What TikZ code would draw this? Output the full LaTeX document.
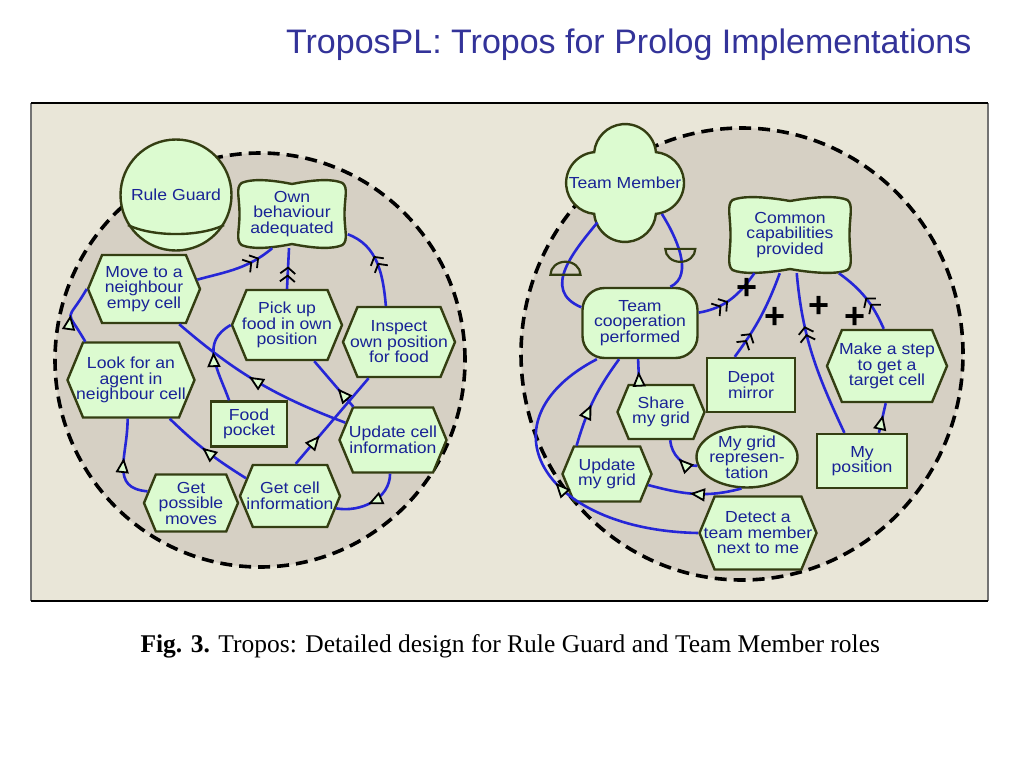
\documentclass[tikz,border=0pt]{standalone}
\usepackage{fontspec}
\setmainfont{Liberation Sans}
\newfontfamily\diafont[FakeStretch=1.1]{Liberation Sans}
\newfontfamily\capfont{Liberation Serif}
\usetikzlibrary{shapes.symbols,shapes.geometric,arrows.meta,decorations.markings}

\definecolor{panel}{RGB}{233,230,216}
\definecolor{boundfill}{RGB}{214,208,196}
\definecolor{mint}{RGB}{220,251,208}
\definecolor{olive}{RGB}{52,62,18}
\definecolor{linkblue}{RGB}{38,38,215}
\definecolor{labelblue}{RGB}{25,35,150}
\definecolor{titleblue}{RGB}{51,51,153}

\begin{document}
\begin{tikzpicture}[x=1pt, y=1pt,
    every node/.style={font=\diafont\fontsize{16}{15.5}\selectfont, text=labelblue, align=center},
    element/.style={draw=olive, fill=mint, line width=2.4pt, inner sep=1pt},
    plan/.style={element, signal, signal to=west and east, signal pointer angle=135, inner xsep=-11pt},
    resource/.style={element, rectangle},
    goal/.style={element, rectangle, rounded corners=22pt},
    belief/.style={element, ellipse, inner sep=-4pt},
    actor/.style={element, circle},
    sgpath/.style 2 args={insert path={(0,#2-4) .. controls (0.45*#1,#2+1) and (#1-14,#2+1) .. (#1-5,#2-3)
        .. controls (#1+1,#2-8) and (#1-3,0.5*#2) .. (#1-3,0)
        .. controls (#1-3,-0.5*#2) and (#1+1,-#2+8) .. (#1-5,-#2+3)
        .. controls (#1-14,-#2-1) and (0.45*#1,-#2-1) .. (0,-#2+4)
        .. controls (-0.45*#1,-#2-1) and (-#1+14,-#2-1) .. (-#1+5,-#2+3)
        .. controls (-#1-1,-#2+8) and (-#1+3,-0.5*#2) .. (-#1+3,0)
        .. controls (-#1+3,0.5*#2) and (-#1-1,#2-8) .. (-#1+5,#2-3)
        .. controls (-#1+14,#2+1) and (-0.45*#1,#2+1) .. (0,#2-4) -- cycle}},
    boundary/.style={draw=black, fill=boundfill, line width=3.6pt, dash pattern=on 12pt off 7pt},
    link/.style={draw=linkblue, line width=2.6pt},
    meansend/.style={postaction={decorate, decoration={markings, mark=at position #1 with
        {\arrow{Triangle[length=15pt, width=13pt, color=black, fill=mint, line width=1.8pt]}}}}},
    contrib/.style={postaction={decorate, decoration={markings, mark=at position #1 with
        {\arrow{Straight Barb[length=6pt, width=15pt, color=black, line width=1.8pt] Straight Barb[length=6pt, width=15pt, color=black, line width=1.8pt]}}}}},
    plus/.style={font=\fontsize{36}{36}\bfseries\selectfont, text=black, inner sep=0pt},
    ownership/.style={draw=olive, line width=2.2pt}
  ]
\useasboundingbox (0,0) rectangle (1024,-768);

% title and caption
\node[font=\fontsize{34}{34}\selectfont, text=titleblue, anchor=base east] (title) at (975,-54) {TroposPL: Tropos for Prolog Implementations};
\node[font=\capfont\fontsize{25.5}{25.5}\selectfont, text=black, anchor=base west] (caption) at (137,-652) {\textbf{Fig. 3.} Tropos: Detailed design for Rule Guard and Team Member roles};

% figure panel
\fill[panel] (31,-103) rectangle (988,-601);
\draw[black!55, line width=1.5pt] (31,-103) -- (31,-601);
\draw[black!55, line width=1.5pt] (988,-103) -- (988,-601);
\draw[black, line width=1.5pt] (31,-103) -- (988,-103);
\draw[black, line width=1.5pt] (31,-601) -- (988,-601);

% actor boundaries
\draw[boundary] (260,-360) ellipse[x radius=205, y radius=207];
\draw[boundary] (742,-354) ellipse[x radius=221, y radius=226];

% Rule Guard
\node[actor, minimum size=111] (rg) at (176,-195) {Rule Guard};
\draw[olive, line width=2.4pt] (rg.212) .. controls +(25,-12) and +(-25,-12) .. (rg.-32);

\filldraw[element, shift={(292,-214)}] [sgpath={55.5}{34}];
\node[minimum width=111, minimum height=68] (own) at (292,-214) {Own\\behaviour\\adequated};
\node[plan, minimum width=112, minimum height=68] (move) at (144,-289) {Move to a\\neighbour\\empy cell};
\node[plan, minimum width=110, minimum height=70] (pick) at (287,-325) {Pick up\\food in own\\position};
\node[plan, minimum width=112, minimum height=70] (inspect) at (399,-342) {Inspect\\own position\\for food};
\node[plan, minimum width=127, minimum height=75] (look) at (131,-380) {Look for an\\agent in\\neighbour cell};
\node[resource, minimum width=76, minimum height=45] (food) at (249,-424) {Food\\pocket};
\node[plan, minimum width=107, minimum height=65] (update) at (393,-440) {Update cell\\information};
\node[plan, minimum width=94, minimum height=57] (getmoves) at (191,-503) {Get\\possible\\moves};
\node[plan, minimum width=100, minimum height=62] (getcell) at (290,-496) {Get cell\\information};

\draw[link, contrib=.8] (move.10) to[out=15, in=-140] (own.240);
\draw[link, contrib=.55] (pick.north) to (own.265);
\draw[link, contrib=.6] (inspect.110) to[out=95, in=-20] (own.-20);
\draw[link, meansend=.5] (look.140) to[out=120, in=240, looseness=2] (move.west);
\draw[link, meansend=.55] (update.160) to[bend left=10] (move.-45);
\draw[link, meansend=.6] (food.130) to[out=110, in=210, looseness=1.2] (pick.west);
\draw[link, meansend=.4] (update.140) to (pick.-53);
\draw[link, meansend=.33] (getcell.80) to (inspect.-130);
\draw[link, meansend=.55] (getcell.158) to[bend left=6] (look.-45);
\draw[link, meansend=.55] (getmoves.165) to[out=175, in=-90, looseness=1.3] (look.-95);
\draw[link, meansend=.55] (update.-95) to[out=-90, in=-10] (getcell.-15);

% Team Member
\filldraw[element, shift={(625,-183)}] (28,0) ++(-84.6:31)
  arc[start angle=-84.6, end angle=84.6, radius=31]
  arc[start angle=5.4, end angle=174.6, radius=31]
  arc[start angle=95.4, end angle=264.6, radius=31]
  arc[start angle=185.4, end angle=354.6, radius=31] -- cycle;
\node[circle, minimum size=96, inner sep=-10pt] (tm) at (625,-183) {Team Member};

\filldraw[element, shift={(790,-235)}] [sgpath={62.5}{38}];
\node[minimum width=125, minimum height=76] (cc) at (790,-235) {Common\\capabilities\\provided};
\node[goal, minimum width=115, minimum height=70] (tcp) at (640,-323) {Team\\cooperation\\performed};
\node[resource, minimum width=88, minimum height=54] (depot) at (751,-385) {Depot\\mirror};
\node[plan, minimum width=120, minimum height=72] (step) at (887,-366) {Make a step\\to get a\\target cell};
\node[plan, minimum width=87, minimum height=54] (share) at (661,-412) {Share\\my grid};
\node[belief, minimum width=101, minimum height=61] (mygrid) at (747,-457) {My grid\\represen-\\tation};
\node[resource, minimum width=90, minimum height=54] (mypos) at (862,-461) {My\\position};
\node[plan, minimum width=89, minimum height=55] (updgrid) at (607,-474) {Update\\my grid};
\node[plan, minimum width=117, minimum height=73] (detect) at (758,-533) {Detect a\\team member\\next to me};

\draw[link] (tm.235) .. controls (575,-250) and (540,-290) .. (tcp.165) coordinate[pos=.5] (ownL);
\draw[ownership] ([xshift=-15, yshift=-6]ownL) arc[start angle=180, end angle=0, x radius=15, y radius=13] -- cycle;
\draw[link] (tm.-40) .. controls (675,-235) and (695,-275) .. (tcp.50) coordinate[pos=.5] (ownR);
\draw[ownership] ([xshift=-15, yshift=5]ownR) arc[start angle=180, end angle=360, x radius=15, y radius=13] -- cycle;

\draw[link, contrib=.45] (tcp.10) to[out=10, in=-125] (cc.-133);
\draw[link, contrib=.3] (depot.120) to[bend right=8] (cc.-105);
\draw[link, contrib=.68] (mypos.122) to[out=115, in=-85] (cc.-80);
\draw[link, contrib=.5] (step.95) to[bend right=15] (cc.-38);
\node[plus] (plus1) at (747,-289) {+};
\node[plus] (plus2) at (775,-318) {+};
\node[plus] (plus3) at (819,-307) {+};
\node[plus] (plus4) at (855,-318) {+};

\draw[link, meansend=.5] (share.128) to (tcp.-93);
\draw[link, meansend=.45] (updgrid.137) to[bend left=10] (tcp.-120);
\draw[link, meansend=.5] (detect.west) .. controls (540,-530) and (480,-420) .. (tcp.-140);
\draw[link, meansend=.5] (mygrid.190) to[out=185, in=-85] (share.-72);
\draw[link, meansend=.55] (mygrid.-100) to[out=195, in=-15] (updgrid.-15);
\draw[link, meansend=.6] (mypos.59) to (step.-92);
\end{tikzpicture}
\end{document}
